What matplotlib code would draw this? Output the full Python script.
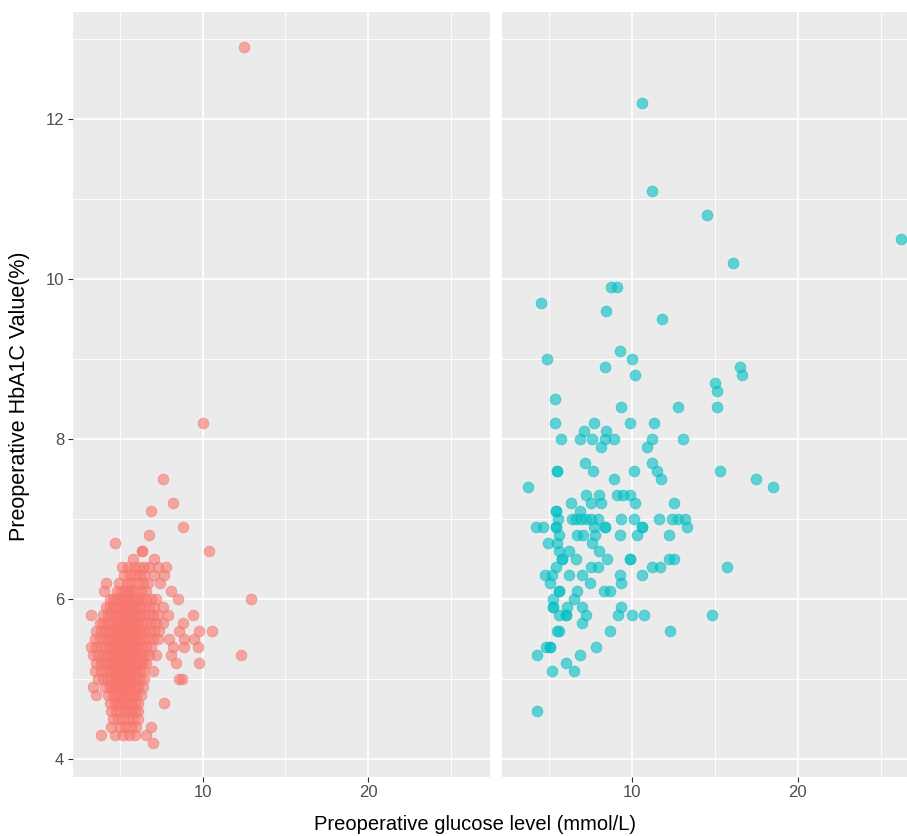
import matplotlib
matplotlib.use("Agg")
import matplotlib.pyplot as plt
from matplotlib.ticker import MultipleLocator

plt.rcParams["font.family"] = ["Liberation Sans", "DejaVu Sans"]

# left panel (no diabetes): HbA1c row -> glucose values
nd_rows = {
    4.2: [7.0],
    4.3: [3.85, 4.75, 5.2, 5.55, 5.9, 6.6],
    4.4: [4.5, 5.0, 5.3, 5.7, 6.0, 6.9],
    4.5: [4.6, 4.9, 5.2, 5.5, 5.8, 6.1],
    4.6: [4.5, 4.8, 5.0, 5.3, 5.5, 5.7, 5.9, 6.1],
    4.7: [4.4, 4.7, 4.9, 5.1, 5.3, 5.5, 5.7, 5.9, 6.1, 7.7],
    4.8: [3.6, 4.3, 4.6, 4.8, 5.0, 5.1, 5.3, 5.4, 5.6, 5.8, 6.0, 6.3],
    4.9: [3.4, 4.1, 4.4, 4.6, 4.8, 4.9, 5.1, 5.2, 5.4, 5.5, 5.7, 5.9, 6.1, 6.4],
    5.0: [3.7, 4.0, 4.3, 4.5, 4.7, 4.8, 5.0, 5.1, 5.2, 5.3, 5.5, 5.6, 5.8,
          6.0, 6.2, 6.5, 8.6, 8.75],
    5.1: [3.5, 3.9, 4.2, 4.4, 4.6, 4.8, 4.9, 5.0, 5.2, 5.3, 5.4, 5.5, 5.7,
          5.8, 6.0, 6.2, 6.4, 7.0],
    5.2: [3.6, 3.9, 4.1, 4.3, 4.5, 4.7, 4.8, 5.0, 5.1, 5.2, 5.3, 5.5, 5.6,
          5.7, 5.9, 6.0, 6.2, 6.4, 6.6, 8.4, 9.8],
    5.3: [3.4, 3.7, 4.0, 4.2, 4.4, 4.6, 4.8, 4.9, 5.0, 5.2, 5.3, 5.4, 5.5,
          5.6, 5.8, 5.9, 6.1, 6.3, 6.5, 6.8, 7.2, 8.1, 12.3],
    5.4: [3.3, 3.6, 3.9, 4.2, 4.4, 4.6, 4.8, 4.9, 5.0, 5.1, 5.3, 5.4, 5.5,
          5.6, 5.8, 5.9, 6.1, 6.3, 6.6, 6.9, 8.2, 8.9, 9.7],
    5.5: [3.5, 3.8, 4.1, 4.3, 4.5, 4.7, 4.9, 5.0, 5.2, 5.3, 5.4, 5.6, 5.7,
          5.9, 6.0, 6.2, 6.4, 6.7, 7.0, 7.3, 8.0, 8.9, 9.5],
    5.6: [3.6, 3.9, 4.1, 4.3, 4.6, 4.8, 4.9, 5.1, 5.2, 5.4, 5.5, 5.6, 5.8,
          5.9, 6.1, 6.3, 6.5, 6.8, 7.1, 7.4, 8.6, 9.8, 10.6],
    5.7: [3.8, 4.0, 4.3, 4.5, 4.7, 4.9, 5.0, 5.2, 5.3, 5.5, 5.6, 5.8, 5.9,
          6.1, 6.3, 6.6, 6.9, 7.2, 7.6, 8.8],
    5.8: [3.25, 4.0, 4.3, 4.5, 4.7, 4.9, 5.1, 5.2, 5.4, 5.5, 5.7, 5.8, 6.0,
          6.2, 6.4, 6.7, 7.0, 7.3, 7.9, 9.4],
    5.9: [4.2, 4.4, 4.6, 4.8, 5.0, 5.2, 5.3, 5.5, 5.6, 5.8, 6.0, 6.2, 6.5,
          6.8, 7.1, 7.6],
    6.0: [4.4, 4.6, 4.8, 5.0, 5.2, 5.4, 5.5, 5.7, 5.9, 6.1, 6.3, 6.6, 6.9,
          7.2, 8.5, 12.9],
    6.1: [4.05, 4.85, 5.1, 5.3, 5.5, 5.7, 5.9, 6.3, 6.6, 8.1],
    6.2: [4.15, 4.95, 5.45, 5.7, 6.1, 6.4, 6.7, 7.45],
    6.3: [5.25, 5.6, 5.9, 6.2, 6.5, 7.1, 7.7],
    6.4: [5.15, 5.5, 5.85, 6.15, 6.5, 6.8, 7.3, 7.8],
    6.5: [5.8, 7.1],
    6.6: [6.35, 6.35, 10.4],
    6.7: [4.7],
    6.8: [6.8],
    6.9: [8.8],
    7.1: [6.9],
    7.2: [8.2],
    7.5: [7.6],
    8.2: [10.0],
    12.9: [12.5],
}

# right panel (diabetes)
dm_rows = {
    12.2: [10.6],
    11.1: [11.2],
    10.8: [14.5],
    10.5: [26.2],
    10.2: [16.1],
    9.9: [8.75, 9.1],
    9.7: [4.5],
    9.6: [8.45],
    9.5: [11.8],
    9.1: [9.3],
    9.0: [4.9, 10.0],
    8.9: [8.35, 16.5],
    8.8: [10.2, 16.6],
    8.7: [15.0],
    8.6: [15.1],
    8.5: [5.35],
    8.4: [9.35, 12.8, 15.1],
    8.2: [5.35, 7.7, 9.85, 11.3],
    8.1: [7.1, 8.4],
    8.0: [5.7, 6.85, 7.6, 8.35, 8.9, 11.2, 13.1],
    7.9: [8.1, 10.9],
    7.7: [7.15, 11.2],
    7.6: [5.5, 5.5, 7.65, 10.1, 11.5, 15.3],
    7.5: [8.9, 11.75, 17.5],
    7.4: [3.7, 18.5],
    7.3: [7.25, 8.0, 9.1, 9.45, 9.85],
    7.2: [6.3, 7.5, 8.1, 10.2, 12.5],
    7.1: [5.4, 5.4, 6.85],
    7.0: [5.54, 6.4, 6.65, 6.95, 7.25, 7.55, 7.95, 9.35, 10.1, 11.65,
          12.4, 12.8, 13.2],
    6.9: [4.2, 4.65, 5.4, 5.4, 7.7, 8.35, 8.35, 10.6, 10.6, 13.3],
    6.8: [5.6, 6.7, 7.05, 7.75, 9.25, 10.3, 12.2],
    6.7: [4.95, 5.5, 7.6],
    6.6: [5.6, 6.2, 8.0],
    6.5: [5.8, 5.8, 6.6, 8.5, 9.85, 9.85, 12.2, 12.5],
    6.4: [5.4, 7.55, 7.95, 11.2, 11.7, 15.7],
    6.3: [4.75, 5.15, 6.2, 7.0, 9.25, 10.6],
    6.2: [5.05, 7.45, 9.35],
    6.1: [5.6, 5.6, 6.7, 8.3, 8.7],
    6.0: [5.25, 6.5],
    5.9: [5.25, 5.25, 6.1, 7.0, 9.35],
    5.8: [5.6, 6.0, 6.0, 7.2, 9.15, 10.0, 10.7, 14.8],
    5.7: [7.0],
    5.6: [5.45, 5.6, 8.7, 12.3],
    5.4: [4.8, 5.05, 5.05, 7.8],
    5.3: [4.3, 6.85],
    5.2: [6.0],
    5.1: [5.15, 6.5],
    4.6: [4.3],
}

x_ticks = [10, 20]
y_ticks = [4, 6, 8, 10, 12]
x_range = (2.16, 27.36)
y_range = (3.775, 13.335)


def flatten(rows):
    xs, ys = [], []
    for hb, glus in rows.items():
        for g in glus:
            xs.append(g)
            ys.append(hb)
    return xs, ys


W, H = 907, 836
fig = plt.figure(figsize=(W / 100, H / 100), dpi=100)

p_left, p_right, p_top, p_bot = 72.5, 490.5, 12.3, 776.5
pw = p_right - p_left
ph = p_bot - p_top
ax1 = fig.add_axes([p_left / W, 1 - p_bot / H, pw / W, ph / H])
ax2 = fig.add_axes([502 / W, 1 - p_bot / H, pw / W, ph / H])


def style(ax, show_y):
    ax.set_facecolor("#EBEBEB")
    ax.set_xlim(*x_range)
    ax.set_ylim(*y_range)
    ax.set_xticks(x_ticks)
    ax.set_yticks(y_ticks)
    ax.xaxis.set_minor_locator(MultipleLocator(5))
    ax.yaxis.set_minor_locator(MultipleLocator(1))
    ax.grid(which="major", color="white", linewidth=1.3)
    ax.grid(which="minor", color="white", linewidth=0.65)
    ax.set_axisbelow(True)
    for s in ax.spines.values():
        s.set_visible(False)
    ax.tick_params(which="major", length=3.5, width=0.8, color="#333333",
                   labelsize=12, labelcolor="#4D4D4D", pad=2.5)
    ax.tick_params(which="minor", length=0)
    if not show_y:
        ax.tick_params(axis="y", which="both", left=False, labelleft=False)


style(ax1, True)
style(ax2, False)

x, y = flatten(nd_rows)
ax1.scatter(x, y, s=60, color="#F8766D", alpha=0.6, linewidths=0.6,
            edgecolors="#F8766D", zorder=3)
x, y = flatten(dm_rows)
ax2.scatter(x, y, s=60, color="#00BFC4", alpha=0.6, linewidths=0.6,
            edgecolors="#00BFC4", zorder=3)

fig.text(475 / W, 1 - 824 / H, "Preoperative glucose level (mmol/L)",
         ha="center", va="center", fontsize=14.5, color="black")
fig.text(20 / W, 1 - 396 / H, "Preoperative HbA1C Value(%)",
         ha="center", va="center", rotation=90, fontsize=15.5, color="black")

fig.savefig("out.png", dpi=100)
